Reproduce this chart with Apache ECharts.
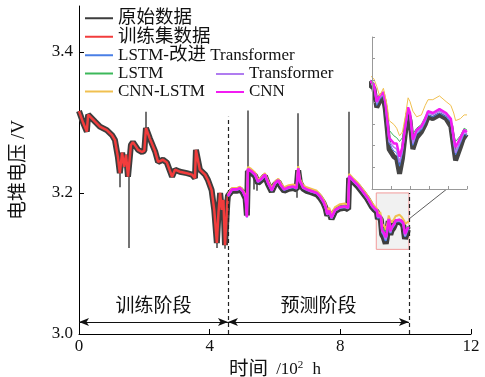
<!DOCTYPE html>
<html>
<head>
<meta charset="utf-8">
<script src="https://cdn.jsdelivr.net/npm/echarts@6/dist/echarts.min.js"></script>
<style>html,body{margin:0;padding:0;background:#fff}#c{width:485px;height:377px}</style>
</head>
<body>
<div id="c"></div>
<script>
// ---------- data ----------
const xTicks = [0, 4, 8, 12];
const yTicks = [3.0, 3.2, 3.4];

// training phase (raw data == training set data)
const trainT = [0, 0.13, 0.24, 0.28, 0.49, 0.64, 0.85, 1.01, 1.10, 1.19, 1.25, 1.32, 1.38, 1.44, 1.50, 1.59, 1.65, 1.81, 1.93, 2.00, 2.05, 2.17, 2.33, 2.42, 2.57, 2.69, 2.85, 2.94, 3.09, 3.30, 3.46, 3.55, 3.58, 3.70, 3.86, 3.95, 4.06, 4.14, 4.22, 4.27, 4.32, 4.37, 4.42, 4.47, 4.54, 4.56];
const trainV = [3.316, 3.299, 3.287, 3.311, 3.301, 3.294, 3.289, 3.282, 3.275, 3.251, 3.228, 3.257, 3.237, 3.254, 3.223, 3.268, 3.272, 3.261, 3.258, 3.260, 3.292, 3.277, 3.259, 3.244, 3.247, 3.243, 3.223, 3.233, 3.230, 3.228, 3.226, 3.221, 3.261, 3.233, 3.226, 3.218, 3.204, 3.176, 3.129, 3.172, 3.200, 3.176, 3.190, 3.126, 3.186, 3.196];

// prediction phase
const predT = [4.56, 4.68, 4.84, 4.93, 5.02, 5.10, 5.14, 5.17, 5.27, 5.39, 5.48, 5.58, 5.69, 5.79, 5.90, 6.00, 6.10, 6.18, 6.28, 6.42, 6.56, 6.66, 6.71, 6.76, 6.86, 6.97, 7.10, 7.28, 7.38, 7.48, 7.55, 7.60, 7.66, 7.73, 7.84, 7.99, 8.14, 8.24, 8.27, 8.39, 8.54, 8.69, 8.82, 8.97, 9.05,
  9.12, 9.15, 9.18, 9.22, 9.24, 9.26, 9.28, 9.33, 9.36, 9.39, 9.42, 9.45, 9.48, 9.50, 9.53, 9.57, 9.62, 9.66, 9.69, 9.74, 9.81, 9.88, 9.93, 9.96, 9.98, 10.03, 10.07, 10.10];
const rawPredV = [3.194,3.203,3.203,3.205,3.200,3.192,3.168,3.231,3.229,3.224,3.214,3.218,3.224,3.212,3.202,3.212,3.216,3.209,3.203,3.206,3.207,3.205,3.232,3.215,3.206,3.203,3.201,3.198,3.193,3.186,3.178,3.168,3.173,3.163,3.174,3.178,3.179,3.177,3.221,3.216,3.209,3.200,3.192,3.180,3.176,
  3.173,3.163,3.166,3.168,3.162,3.152,3.141,3.137,3.136,3.128,3.136,3.149,3.160,3.156,3.141,3.147,3.150,3.154,3.158,3.157,3.159,3.157,3.153,3.142,3.135,3.142,3.148,3.147];
const improvedV = [3.195,3.204,3.204,3.206,3.201,3.193,3.166,3.233,3.230,3.225,3.215,3.219,3.225,3.213,3.203,3.213,3.217,3.210,3.204,3.207,3.208,3.206,3.234,3.216,3.207,3.204,3.202,3.199,3.194,3.187,3.179,3.169,3.174,3.164,3.175,3.179,3.180,3.178,3.223,3.217,3.210,3.201,3.193,3.181,3.177,
  3.174,3.164,3.167,3.169,3.164,3.154,3.144,3.140,3.139,3.132,3.139,3.151,3.161,3.158,3.143,3.149,3.151,3.155,3.159,3.158,3.160,3.158,3.155,3.144,3.138,3.144,3.149,3.148];
const lstmV = [3.197,3.206,3.206,3.208,3.203,3.195,3.168,3.235,3.232,3.227,3.217,3.221,3.227,3.215,3.205,3.215,3.219,3.212,3.206,3.209,3.210,3.208,3.236,3.218,3.209,3.206,3.204,3.201,3.196,3.189,3.181,3.172,3.176,3.167,3.177,3.181,3.182,3.180,3.225,3.219,3.212,3.203,3.195,3.183,3.179,
  3.176,3.167,3.170,3.171,3.167,3.159,3.151,3.148,3.147,3.145,3.147,3.155,3.163,3.160,3.149,3.152,3.154,3.158,3.161,3.160,3.162,3.160,3.157,3.149,3.145,3.148,3.152,3.151];
const transformerV = [3.196,3.204,3.205,3.206,3.202,3.193,3.165,3.233,3.231,3.225,3.216,3.219,3.225,3.214,3.203,3.213,3.218,3.210,3.205,3.207,3.209,3.206,3.234,3.217,3.207,3.205,3.202,3.200,3.194,3.187,3.179,3.169,3.174,3.164,3.175,3.179,3.180,3.178,3.223,3.217,3.210,3.201,3.193,3.181,3.177,
  3.174,3.165,3.168,3.170,3.165,3.155,3.145,3.142,3.141,3.134,3.140,3.152,3.162,3.159,3.144,3.150,3.152,3.156,3.160,3.159,3.161,3.159,3.156,3.145,3.139,3.145,3.150,3.149];
const cnnLstmV = [3.198,3.207,3.207,3.209,3.204,3.197,3.172,3.237,3.234,3.229,3.219,3.222,3.228,3.217,3.207,3.216,3.220,3.214,3.208,3.211,3.212,3.210,3.238,3.220,3.211,3.208,3.206,3.203,3.198,3.191,3.184,3.175,3.179,3.170,3.180,3.184,3.185,3.183,3.227,3.221,3.214,3.205,3.197,3.186,3.181,
  3.178,3.174,3.169,3.173,3.172,3.164,3.156,3.154,3.152,3.148,3.150,3.158,3.168,3.166,3.161,3.158,3.159,3.164,3.167,3.167,3.169,3.166,3.164,3.160,3.156,3.157,3.159,3.159];
const cnnV = [3.196,3.205,3.205,3.207,3.202,3.194,3.166,3.234,3.231,3.226,3.216,3.220,3.226,3.214,3.204,3.214,3.218,3.211,3.205,3.208,3.209,3.207,3.235,3.217,3.208,3.205,3.203,3.200,3.195,3.188,3.180,3.170,3.175,3.165,3.176,3.180,3.181,3.179,3.224,3.218,3.211,3.202,3.194,3.182,3.178,
  3.175,3.166,3.169,3.171,3.166,3.157,3.147,3.144,3.144,3.137,3.142,3.153,3.163,3.160,3.146,3.151,3.153,3.157,3.161,3.160,3.162,3.160,3.157,3.147,3.142,3.147,3.151,3.150];

// raw-data spikes: [time, level, spike end]
const rawSpikes = [[1.25, 3.228, 3.208], [1.52, 3.225, 3.122], [2.05, 3.290, 3.315], [4.22, 3.129, 3.122], [4.47, 3.126, 3.121],
  [5.16, 3.233, 3.317], [5.36, 3.226, 3.205], [5.43, 3.222, 3.203], [6.66, 3.207, 3.193], [6.70, 3.230, 3.313], [8.26, 3.200, 3.315]];

// phases and zoom window
const phases = [{ name: '训练阶段', from: 0, to: 4.56 }, { name: '预测阶段', from: 4.56, to: 10.1 }];
const phaseLineTop = [3.308, 3.2];
const zoomT = [9.1, 10.1];
const zoomV = [3.12, 3.20];

// ---------- chart ----------
const FONT = "'Liberation Serif','Times New Roman','Noto Sans CJK SC',serif";
const C = { raw: '#3d3d3d', train: '#f23c3c', improved: '#4a7fe6', lstm: '#3cb85a', trans: '#b07cf0', cnnlstm: '#f0c050', cnn: '#f21cf2' };
const P = (xs, ys) => xs.map((x, i) => [x, ys[i]]);

const chart = echarts.init(document.getElementById('c'), null, { renderer: 'canvas' });

const predModels = [
  ['LSTM-改进 Transformer', improvedV, C.improved, 2, 1],
  ['LSTM', lstmV, C.lstm, 2, 1],
  ['Transformer', transformerV, C.trans, 2, 1.5],
  ['CNN-LSTM', cnnLstmV, C.cnnlstm, 2, 1],
  ['CNN', cnnV, C.cnn, 2.6, 2.5]
];

const series = [];
series.push({
  name: '原始数据', type: 'line', symbol: 'none', z: 2,
  data: P(trainT, trainV).concat(P(predT, rawPredV)),
  lineStyle: { color: C.raw, width: 6 }, itemStyle: { color: C.raw },
  markArea: {
    silent: true,
    itemStyle: { color: '#f1f1f1', borderColor: '#f29a9a', borderWidth: 1 },
    data: [[{ coord: [zoomT[0], zoomV[0]] }, { coord: [zoomT[1], zoomV[1]] }]]
  }
});
series.push({
  name: '原始数据尖峰', type: 'lines', coordinateSystem: 'cartesian2d', z: 2,
  data: rawSpikes.map(s => ({ coords: [[s[0], s[1]], [s[0], s[2]]] })),
  lineStyle: { color: '#505050', width: 1.6, opacity: 1 }
});
series.push({
  name: '训练集数据', type: 'line', symbol: 'none', z: 3,
  data: P(trainT, trainV),
  lineStyle: { color: C.train, width: 2.5 }, itemStyle: { color: C.train }
});
predModels.forEach((m, i) => {
  series.push({
    name: m[0], type: 'line', symbol: 'none', z: 4 + i,
    data: P(predT, m[1]),
    lineStyle: { color: m[2], width: m[3] }, itemStyle: { color: m[2] }
  });
});
// annotations
series.push({
  name: 'annot', type: 'line', data: [], z: 10, silent: true,
  markLine: {
    silent: true, animation: false,
    symbol: ['none', 'none'],
    data: phases.map((p, i) => [
      { coord: [p.to, 3.0], lineStyle: { color: '#222', type: [4, 3], width: 1.2 }, label: { show: false } },
      { coord: [p.to, phaseLineTop[i]] }
    ]).concat([[
      { coord: [zoomT[1], 3.163], lineStyle: { color: '#333', type: 'solid', width: 0.8 }, label: { show: false } },
      { coord: [11.3, 3.207] }
    ]])
  }
});
series.push({
  name: 'phase', type: 'line', data: [], z: 11, silent: true,
  markLine: {
    silent: true, animation: false,
    symbol: ['arrow', 'arrow'], symbolSize: [6, 10],
    lineStyle: { color: '#111', type: 'solid', width: 1 },
    label: {
      show: true, position: 'middle', formatter: '{b}', color: '#111', fontSize: 19, fontFamily: FONT,
      backgroundColor: '#fff', padding: [0, 4]
    },
    data: phases.map(p => [{ coord: [p.from, 3.017], name: p.name }, { coord: [p.to, 3.017] }])
  }
});
// inset series
series.push({
  name: '原始数据', type: 'line', symbol: 'none', xAxisIndex: 1, yAxisIndex: 1, z: 20,
  data: P(predT, rawPredV), lineStyle: { color: '#454545', width: 5 }, itemStyle: { color: C.raw }
});
predModels.forEach((m, i) => {
  series.push({
    name: m[0], type: 'line', symbol: 'none', xAxisIndex: 1, yAxisIndex: 1, z: 21 + (m[0] === 'CNN-LSTM' ? 6 : i),
    data: P(predT, m[1]),
    lineStyle: { color: m[2], width: m[4] }, itemStyle: { color: m[2] }
  });
});

const cjkFmt = name => name.replace(/([\u4e00-\u9fa5]+)/g, '{cjk|$1}');
const legendText = { fontSize: 17, fontFamily: FONT, color: '#111', lineHeight: 18, rich: { cjk: { fontSize: 18.5, fontFamily: FONT, color: '#111', lineHeight: 18 } } };
const LEG_ICON = 'path://M0,0 L28,0 L28,2 L0,2 Z';
const axisLine = { show: true, lineStyle: { color: '#000', width: 1 } };
const option = {
  animation: false,
  backgroundColor: '#fff',
  textStyle: { fontFamily: FONT },
  grid: [
    { left: 79, right: 14, top: 6, bottom: 43, outerBoundsMode: 'none', containLabel: false },
    { left: 372, top: 37, width: 95, height: 152, show: true, backgroundColor: '#fff', borderWidth: 0, z: 15, outerBoundsMode: 'none', containLabel: false }
  ],
  legend: [
    {
      left: 85, top: 9, orient: 'vertical', padding: 0, itemWidth: 28, itemHeight: 2, itemGap: 0,
      icon: LEG_ICON, formatter: cjkFmt, textStyle: legendText,
      data: ['原始数据', '训练集数据', 'LSTM-改进 Transformer', 'LSTM', 'CNN-LSTM']
    },
    {
      left: 216, top: 65, orient: 'vertical', padding: 0, itemWidth: 28, itemHeight: 2, itemGap: 0,
      icon: LEG_ICON, formatter: cjkFmt, textStyle: legendText,
      data: ['Transformer', 'CNN']
    }
  ],
  xAxis: [
    {
      type: 'value', gridIndex: 0, min: xTicks[0], max: xTicks[xTicks.length - 1], interval: xTicks[1] - xTicks[0],
      axisLine, axisTick: { show: true, inside: true, length: 5, lineStyle: { color: '#000' } },
      splitLine: { show: false },
      axisLabel: { color: '#111', fontSize: 17, fontFamily: FONT, margin: 4 },
      name: '{c|时间} /10{sup|2} h', nameLocation: 'middle', nameGap: 26,
      nameTextStyle: { color: '#111', fontSize: 17, fontFamily: FONT, rich: {
        c: { fontSize: 19.5, fontFamily: FONT, color: '#111', padding: [0, 4, 0, 0] },
        sup: { fontSize: 11, verticalAlign: 'top', padding: [0, 5, 8, 0], fontFamily: FONT } } }
    },
    {
      type: 'value', gridIndex: 1, min: zoomT[0], max: zoomT[1], interval: 0.2, z: 30,
      axisLine: { show: true, onZero: false, lineStyle: { color: '#999', width: 1 } },
      axisTick: { show: true, inside: true, length: 3, lineStyle: { color: '#999' } },
      axisLabel: { show: false }, splitLine: { show: false }
    }
  ],
  yAxis: [
    {
      type: 'value', gridIndex: 0, min: yTicks[0], max: 3.465, interval: yTicks[1] - yTicks[0],
      axisLine, axisTick: { show: true, inside: true, length: 5, lineStyle: { color: '#000' } },
      splitLine: { show: false },
      axisLabel: { color: '#111', fontSize: 17, fontFamily: FONT, margin: 6, showMaxLabel: false, formatter: v => v.toFixed(1) },
      name: '电堆电压 /V', nameLocation: 'middle', nameGap: 50, nameRotate: 90,
      nameTextStyle: { color: '#111', fontSize: 19, fontFamily: FONT }
    },
    {
      type: 'value', gridIndex: 1, min: zoomV[0], max: zoomV[1], interval: (zoomV[1] - zoomV[0]) / 7, z: 30,
      axisLine: { show: true, onZero: false, lineStyle: { color: '#999', width: 1 } },
      axisTick: { show: true, inside: true, length: 3, lineStyle: { color: '#999' } },
      axisLabel: { show: false }, splitLine: { show: false }
    }
  ],
  series
};
chart.setOption(option);
</script>
</body>
</html>
